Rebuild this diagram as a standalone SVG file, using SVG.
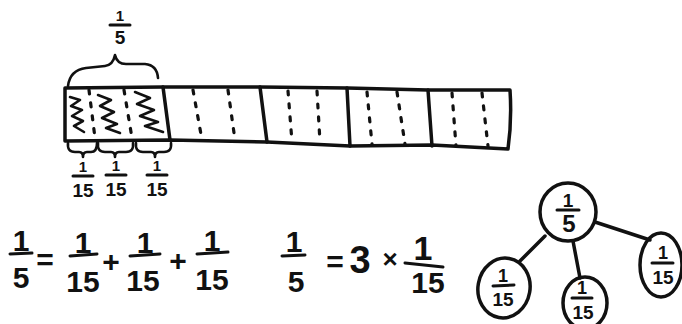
<svg xmlns="http://www.w3.org/2000/svg" width="682" height="324" viewBox="0 0 682 324">
<style>
.ln{fill:none;stroke:#111;stroke-width:3.5;stroke-linecap:round;stroke-linejoin:round}
.th{fill:none;stroke:#111;stroke-width:2.6;stroke-linecap:round;stroke-linejoin:round}
.dash{fill:none;stroke:#111;stroke-width:3.2;stroke-linecap:round;stroke-dasharray:4 9}
.fb{stroke:#111;stroke-width:3;stroke-linecap:round}
text{font-family:"Liberation Sans","DejaVu Sans",sans-serif;font-weight:bold;fill:#111;text-anchor:middle}
.s{font-size:15px}
.m{font-size:19px}
.l{font-size:30px}
</style>
<rect width="682" height="324" fill="#fff"/>

<g id="strip">
  <path class="ln" d="M65,88 L163,87 L260,87 L347,88 L428,90 L510,90 Q512,120 508,149 L432,145 L350,146 L267,142 L170,140 L65,141 Z"/>
  <path class="ln" d="M163,87 L170,140 M260,87 L267,142 M347,88 L350,146 M428,90 L432,146"/>
  <path class="dash" d="M89,90 L95,138 M124,90 L132,138 M193,90 L202,140 M228,90 L235,140 M288,91 L292,142 M317,91 L320,142 M367,92 L372,144 M397,92 L405,144 M452,93 L456,146 M482,93 L488,146"/>
  <path class="th" d="M70,97 L80,100 L71,106 L82,110 L72,116 L83,121 L74,126 L84,132"/>
  <path class="th" d="M98,95 L111,100 L100,106 L114,112 L102,118 L117,124 L106,128 L120,133"/>
  <path class="th" d="M135,92 L150,98 L137,104 L154,110 L140,116 L158,122 L145,126 L163,132"/>
</g>

<g id="brace-fifth">
  <path class="th" d="M68,86 Q70,70 86,68 L105,66 Q113,65 115,55 Q117,64 126,64 L145,64 Q157,65 158,78"/>
  <text class="s" x="120" y="21">1</text>
  <line class="fb" x1="110" y1="25" x2="130" y2="25"/>
  <text class="m" x="120" y="44">5</text>
</g>

<g id="brace-fifteenths">
  <path class="th" d="M68,143 Q67,152 75,152 L79,152 Q83,152 83,157 Q83,152 87,152 L91,152 Q97,152 97,143"/>
  <path class="th" d="M98,143 Q97,152 105,152 L111,152 Q115,152 115,157 Q115,152 119,152 L126,152 Q134,152 133,143"/>
  <path class="th" d="M136,143 Q135,152 143,152 L151,152 Q155,152 155,157 Q155,152 159,152 L164,152 Q172,152 171,143"/>
  <text class="s" x="83" y="172">1</text>
  <line class="fb" x1="73" y1="176" x2="93" y2="176"/>
  <text class="m" x="83" y="197">15</text>
  <text class="s" x="116" y="171">1</text>
  <line class="fb" x1="106" y1="175" x2="126" y2="175"/>
  <text class="m" x="116" y="196">15</text>
  <text class="s" x="157" y="171">1</text>
  <line class="fb" x1="147" y1="175" x2="167" y2="175"/>
  <text class="m" x="157" y="196">15</text>
</g>

<g id="equation-sum">
  <text class="l" x="21" y="251">1</text>
  <line class="fb" x1="10" y1="254" x2="32" y2="253"/>
  <text class="l" x="21" y="288">5</text>
  <text class="l" x="45" y="270">=</text>
  <text class="l" x="83" y="253">1</text>
  <line class="fb" x1="70" y1="256" x2="97" y2="254"/>
  <text class="l" x="83" y="292">15</text>
  <text class="l" x="111" y="272">+</text>
  <text class="l" x="145" y="253">1</text>
  <line class="fb" x1="130" y1="256" x2="160" y2="254"/>
  <text class="l" x="143" y="291">15</text>
  <text class="l" x="178" y="271">+</text>
  <text class="l" x="212" y="251">1</text>
  <line class="fb" x1="197" y1="254" x2="228" y2="252"/>
  <text class="l" x="212" y="290">15</text>
</g>

<g id="equation-product">
  <text class="l" x="294" y="252">1</text>
  <line class="fb" x1="282" y1="256" x2="305" y2="255"/>
  <text class="l" x="296" y="292">5</text>
  <text class="l" x="335" y="272">=</text>
  <text x="360" y="273" style="font-size:38px">3</text>
  <text x="390" y="268" style="font-size:26px">×</text>
  <text x="423" y="260" style="font-size:34px">1</text>
  <line class="fb" x1="405" y1="263" x2="443" y2="267"/>
  <text class="l" x="428" y="293">15</text>
</g>

<g id="connectors">
  <line class="ln" x1="545" y1="236" x2="520" y2="261"/>
  <line class="ln" x1="573" y1="241" x2="580" y2="278"/>
  <line class="ln" x1="595" y1="222" x2="650" y2="240"/>
</g>

<g id="node-fifth">
  <ellipse class="ln" cx="568" cy="212" rx="28" ry="29"/>
  <text x="568" y="207" style="font-size:19px">1</text>
  <line class="fb" x1="557" y1="210" x2="579" y2="210"/>
  <text x="569" y="232" style="font-size:24px">5</text>
</g>

<g id="node-left">
  <ellipse class="ln" cx="504" cy="288" rx="26" ry="30" transform="rotate(10 504 288)"/>
  <text x="503" y="282" style="font-size:18px">1</text>
  <line class="fb" x1="493" y1="286" x2="514" y2="285"/>
  <text x="503" y="306" style="font-size:19px">15</text>
</g>

<g id="node-middle">
  <ellipse class="ln" cx="585" cy="303" rx="22" ry="26"/>
  <text x="582" y="294" style="font-size:18px">1</text>
  <line class="fb" x1="572" y1="298" x2="592" y2="298"/>
  <text x="583" y="319" style="font-size:19px">15</text>
</g>

<g id="node-right">
  <ellipse class="ln" cx="661" cy="265" rx="21" ry="32"/>
  <text x="663" y="259" style="font-size:18px">1</text>
  <line class="fb" x1="652" y1="263" x2="673" y2="263"/>
  <text x="663" y="284" style="font-size:19px">15</text>
</g>
</svg>
